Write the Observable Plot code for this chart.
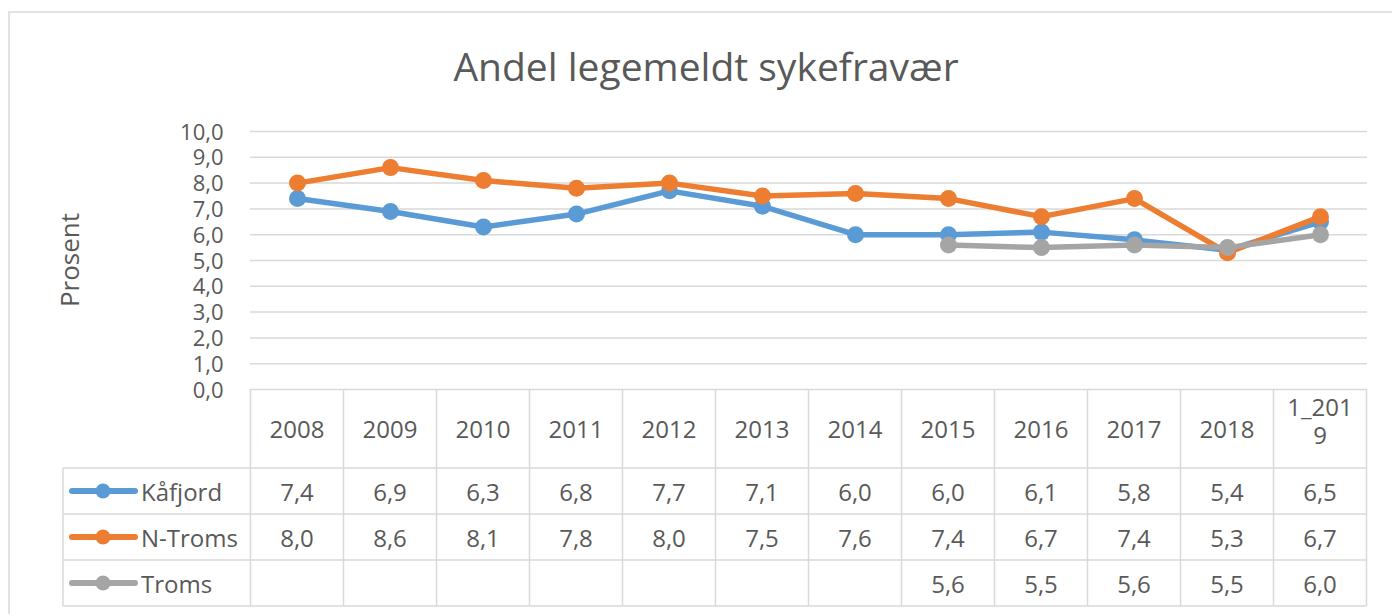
<!DOCTYPE html>
<html>
<head>
<meta charset="utf-8">
<script src="https://cdn.jsdelivr.net/npm/d3@7"></script>
<script src="https://cdn.jsdelivr.net/npm/@observablehq/plot@0.6"></script>
<style>
  html, body { margin: 0; padding: 0; background: #fff; }
  #chart { position: relative; width: 1392px; height: 614px; overflow: hidden; }
  #chart svg { font-family: "Open Sans", sans-serif; }
</style>
</head>
<body>
<div id="chart"></div>
<script>
// ---- data ----
const categories = ["2008","2009","2010","2011","2012","2013","2014","2015","2016","2017","2018","1_2019"];
const kafjord = [7.4, 6.9, 6.3, 6.8, 7.7, 7.1, 6.0, 6.0, 6.1, 5.8, 5.4, 6.5];
const nTroms  = [8.0, 8.6, 8.1, 7.8, 8.0, 7.5, 7.6, 7.4, 6.7, 7.4, 5.3, 6.7];
const troms   = [null, null, null, null, null, null, null, 5.6, 5.5, 5.6, 5.5, 6.0];
const seriesNames = ["Kåfjord", "N-Troms", "Troms"];
const seriesColors = ["#5B9BD5", "#ED7D31", "#A5A5A5"];
const yTicks = [0, 1, 2, 3, 4, 5, 6, 7, 8, 9, 10];
const titleText = "Andel legemeldt sykefravær";
const yLabel = "Prosent";

const seriesValues = [kafjord, nTroms, troms];
const rows = seriesNames.flatMap((s, si) =>
  categories.map((c, i) => ({series: s, cat: c, value: seriesValues[si][i]})));
const fmt = v => v == null ? "" : v.toFixed(1).replace(".", ",");

const W = 1392, H = 614;
const textColor = "#595959";
const gridColor = "#D9D9D9";
const fs = 24;

const marks = [
  Plot.gridY(yTicks, {stroke: gridColor, strokeOpacity: 1, strokeWidth: 1.5}),
  Plot.axisY(yTicks, {tickSize: 0, tickPadding: 27, tickFormat: fmt, fontSize: 22, fill: textColor, label: null, dy: 1})
];
seriesNames.forEach(s => {
  const d = rows.filter(r => r.series === s);
  marks.push(Plot.line(d, {x: "cat", y: "value", stroke: "series", strokeWidth: 5.5, strokeLinejoin: "round", strokeLinecap: "round"}));
  marks.push(Plot.dot(d.filter(r => r.value != null), {x: "cat", y: "value", fill: "series", r: 8.5, stroke: "none"}));
});

const plot = Plot.plot({
  width: W, height: H,
  marginLeft: 250, marginRight: 25, marginTop: 131, marginBottom: 225,
  x: {type: "point", domain: categories, padding: 0.5, axis: null},
  y: {domain: [0, 10], axis: null},
  color: {domain: seriesNames, range: seriesColors},
  style: {fontFamily: "'Open Sans', sans-serif", background: "#fff", overflow: "visible"},
  marks
});
document.getElementById("chart").appendChild(plot);

// ---- decorations: border, title, y label, data table ----
const svg = d3.select(plot);
const xs = plot.scale("x");
const ys = plot.scale("y");
const xpos = c => xs.apply(c);
const step = xpos(categories[1]) - xpos(categories[0]);
const tableLeft = xpos(categories[0]) - step / 2;
const tableRight = xpos(categories[categories.length - 1]) + step / 2;
const tableTop = ys.apply(0);
const headerBottom = tableTop + 79;
const rowH = 46;
const legendLeft = 63;

// outer chart border
svg.insert("rect", ":first-child")
  .attr("x", 9).attr("y", 12).attr("width", W + 20).attr("height", H + 20)
  .attr("fill", "none").attr("stroke", gridColor).attr("stroke-width", 1.5);

// title
svg.append("text").attr("x", 706).attr("y", 81).attr("text-anchor", "middle")
  .attr("fill", textColor).attr("font-size", 39).text(titleText);

// y label
svg.append("text").attr("transform", "translate(79,260) rotate(-90)")
  .attr("text-anchor", "middle").attr("fill", textColor).attr("font-size", 26).text(yLabel);

const g = svg.append("g").attr("stroke", gridColor).attr("stroke-width", 1.5);
// horizontal lines
for (let r = 0; r <= 3; r++) {
  const y = headerBottom + r * rowH;
  g.append("line").attr("x1", legendLeft).attr("x2", tableRight).attr("y1", y).attr("y2", y);
}
// vertical lines
g.append("line").attr("x1", legendLeft).attr("x2", legendLeft).attr("y1", headerBottom).attr("y2", headerBottom + 3 * rowH);
for (let i = 0; i <= categories.length; i++) {
  const x = tableLeft + i * step;
  g.append("line").attr("x1", x).attr("x2", x).attr("y1", tableTop).attr("y2", headerBottom + 3 * rowH);
}

const t = svg.append("g").attr("fill", textColor).attr("font-size", fs).attr("text-anchor", "middle");
// header
categories.forEach(c => {
  const cx = xpos(c);
  if (c.length > 4) {
    t.append("text").attr("x", cx).attr("y", 416).text(c.slice(0, 5));
    t.append("text").attr("x", cx).attr("y", 444).text(c.slice(5));
  } else {
    t.append("text").attr("x", cx).attr("y", (tableTop + headerBottom) / 2 + 9.5).text(c);
  }
});
// rows
seriesNames.forEach((s, si) => {
  const cy = headerBottom + si * rowH + rowH / 2;
  seriesValues[si].forEach((v, i) => {
    t.append("text").attr("x", xpos(categories[i])).attr("y", cy + 10).text(fmt(v));
  });
  // legend key
  svg.append("line").attr("x1", 72).attr("x2", 135).attr("y1", cy).attr("y2", cy)
    .attr("stroke", seriesColors[si]).attr("stroke-width", 6).attr("stroke-linecap", "round");
  svg.append("circle").attr("cx", 103).attr("cy", cy).attr("r", 7.5).attr("fill", seriesColors[si]);
  svg.append("text").attr("x", 141).attr("y", cy + 10).attr("text-anchor", "start")
    .attr("fill", textColor).attr("font-size", fs).text(s);
});
</script>
</body>
</html>
